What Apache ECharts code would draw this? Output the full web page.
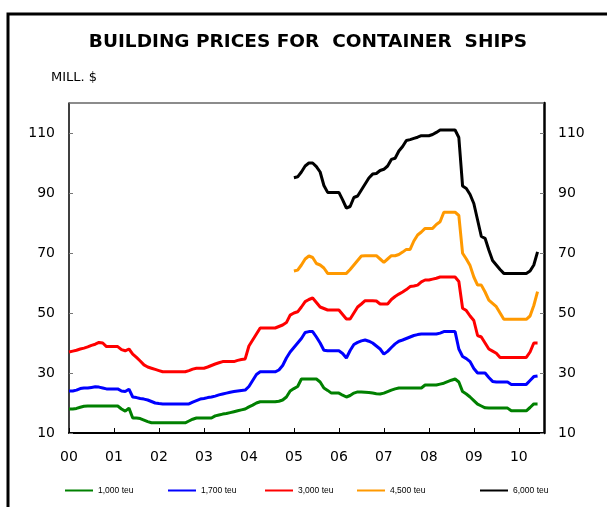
<!DOCTYPE html>
<html>
<head>
<meta charset="utf-8">
<script src="https://cdn.jsdelivr.net/npm/echarts@6/dist/echarts.min.js"></script>
<style>
  html, body { margin: 0; padding: 0; background: #fff; }
  #chart { width: 607px; height: 507px; }
</style>
</head>
<body>
<div id="chart"></div>
<script>
// monthly points, Jan 2000 .. Jun 2010 (as fractional years)
var months = []
for (var y = 2000; y <= 2010; y++) {
  for (var m = 0; m < 12; m++) {
    if (months.length < 126) months.push(y + m / 12)
  }
}

var yearTicks = [2000, 2001, 2002, 2003, 2004, 2005, 2006, 2007, 2008, 2009, 2010]
var priceTicks = [10, 30, 50, 70, 90, 110]

var names = ['1,000 teu', '1,700 teu', '3,000 teu', '4,500 teu', '6,000 teu']
var colors = ['#008000', '#0000ff', '#ff0000', '#ff9900', '#000000']

// from Jan 2000
var teu1000 = [
  18, 18, 18.2, 18.6, 18.9, 19, 19, 19, 19, 19, 19, 19,
  19, 19, 18, 17.3, 18.3, 15, 15, 14.8, 14.3, 13.8, 13.4, 13.4,
  13.4, 13.4, 13.4, 13.4, 13.4, 13.4, 13.4, 13.4, 14, 14.6, 15, 15,
  15, 15, 15, 15.7, 16, 16.3, 16.5, 16.8, 17.1, 17.4, 17.7, 18,
  18.7, 19.3, 20, 20.4, 20.4, 20.4, 20.4, 20.4, 20.6, 21, 22, 24,
  24.8, 25.5, 28, 28, 28, 28, 28, 27, 25, 24.2, 23.3, 23.3,
  23.3, 22.6, 22, 22.5, 23.3, 23.7, 23.7, 23.6, 23.5, 23.3, 23.1, 23,
  23.3, 23.8, 24.3, 24.7, 25, 25, 25, 25, 25, 25, 25, 26,
  26, 26, 26, 26.3, 26.6, 27.1, 27.6, 28, 27, 23.8, 23, 22,
  20.8, 19.6, 19, 18.4, 18.3, 18.3, 18.3, 18.3, 18.3, 18.3, 17.4, 17.4,
  17.4, 17.4, 17.4, 18.5, 19.7, 19.7
]
var teu1700 = [
  24, 24, 24.3, 24.8, 25, 25, 25.2, 25.4, 25.3, 25, 24.7, 24.7,
  24.7, 24.7, 24, 23.8, 24.6, 22, 21.8, 21.5, 21.3, 21, 20.5, 20,
  19.8, 19.7, 19.7, 19.7, 19.7, 19.7, 19.7, 19.7, 19.7, 20.3, 20.8, 21.3,
  21.5, 21.8, 22, 22.3, 22.7, 23, 23.3, 23.6, 23.8, 24, 24.2, 24.3,
  25.5, 27.5, 29.5, 30.4, 30.4, 30.4, 30.4, 30.4, 31, 32.5, 35, 37,
  38.5, 40, 41.5, 43.5, 43.8, 43.8, 42, 40, 37.6, 37.4, 37.4, 37.4,
  37.4, 36.5, 35, 37.5, 39.5, 40.2, 40.7, 41, 40.6, 40, 39, 38,
  36.3, 37.2, 38.5, 39.7, 40.6, 41, 41.5, 42, 42.5, 42.8, 43, 43,
  43, 43, 43, 43.3, 43.8, 43.8, 43.8, 43.8, 38, 35.5, 34.8, 33.8,
  31.5, 30, 30, 30, 28.5, 27.2, 27, 27, 27, 27, 26.2, 26.2,
  26.2, 26.2, 26.2, 27.5, 28.8, 29
]
var teu3000 = [
  37, 37.3, 37.6, 38, 38.3, 38.7, 39.2, 39.6, 40.2, 40, 38.8, 38.8,
  38.8, 38.8, 37.8, 37.4, 38, 36.3, 35.2, 34, 32.7, 32, 31.6, 31.2,
  30.8, 30.4, 30.4, 30.4, 30.4, 30.4, 30.4, 30.4, 30.8, 31.3, 31.6, 31.6,
  31.6, 32, 32.5, 33, 33.4, 33.8, 33.8, 33.8, 33.8, 34.2, 34.5, 34.7,
  39, 41, 43, 45, 45, 45, 45, 45, 45.5, 46, 46.8, 49.3,
  50, 50.4, 52, 53.8, 54.5, 55, 53.5, 52, 51.5, 51, 51, 51,
  51, 49.5, 48, 48, 50, 52, 53, 54.1, 54.1, 54.1, 54, 53,
  53, 53, 54.5, 55.5, 56.3, 57, 57.8, 58.8, 59, 59.3, 60.4, 61,
  61, 61.3, 61.6, 62, 62, 62, 62, 62, 60.5, 51.6, 50.8, 49,
  47.5, 42.5, 42, 40, 38, 37.3, 36.6, 35.2, 35.2, 35.2, 35.2, 35.2,
  35.2, 35.2, 35.2, 37, 40, 40
]
// from Jan 2005
var teu4500 = [
  64, 64.3, 66, 68, 69, 68.5, 66.5, 66, 65, 63.2, 63.2, 63.2,
  63.2, 63.2, 63.2, 64.5, 66, 67.5, 69, 69.1, 69.1, 69.1, 69.1, 68,
  66.9, 68, 69.1, 69.1, 69.5, 70.3, 71.2, 71.2, 74, 76, 77, 78.2,
  78.2, 78.2, 79.5, 80.4, 83.6, 83.6, 83.6, 83.6, 82.5, 69.9, 68, 65.8,
  62, 59.3, 59.3, 57, 54.3, 53.2, 52.1, 50, 47.9, 47.9, 47.9, 47.9,
  47.9, 47.9, 47.9, 49, 52.5, 57.1
]
var teu6000 = [
  95.1, 95.4, 97, 99, 100, 100, 98.8, 97, 92.5, 90.2, 90.2, 90.2,
  90.2, 87.7, 85, 85.5, 88.5, 89, 91, 93, 95, 96.3, 96.5, 97.5,
  97.9, 99, 101.2, 101.6, 104, 105.5, 107.5, 107.8, 108.2, 108.6, 109.1, 109.1,
  109.1, 109.5, 110.2, 111, 111, 111, 111, 111, 108.5, 92.3, 91.5, 89.5,
  86.5, 81, 75.5, 74.9, 71, 67.5, 66, 64.5, 63.2, 63.2, 63.2, 63.2,
  63.2, 63.2, 63.2, 64, 66, 70.4
]

var seriesValues = [teu1000, teu1700, teu3000, teu4500, teu6000]
var seriesStart = [0, 0, 0, 60, 60]

function pairs(values, start) {
  return values.map(function(v, i) { return [months[start + i], v] })
}

var font = 'DejaVu Sans, sans-serif'
var smallFont = 'Liberation Sans, Arial, sans-serif'

function priceAxis(pos, lineWidth) {
  return {
    type: 'value',
    position: pos,
    min: 10,
    max: 120,
    axisLine: { show: true, onZero: false, lineStyle: { color: '#000', width: lineWidth } },
    axisTick: { show: true, inside: true, length: 4, customValues: priceTicks, lineStyle: { color: '#777' } },
    axisLabel: { customValues: priceTicks, color: '#000', fontSize: 14, fontFamily: font, margin: 14 },
    splitLine: { show: false }
  }
}

var chart = echarts.init(document.getElementById('chart'))

chart.setOption({
  backgroundColor: '#fff',
  animation: false,
  graphic: [
    {
      type: 'rect',
      shape: { x: 8, y: 14, width: 700, height: 600 },
      style: { fill: 'none', stroke: '#000', lineWidth: 3 }
    },
    {
      // grey frame line on top of the plot area
      type: 'line',
      z: 50,
      shape: { x1: 69, y1: 103, x2: 544, y2: 103 },
      style: { stroke: '#666', lineWidth: 1.5 }
    },
    {
      type: 'text',
      x: 308,
      y: 42,
      style: {
        text: 'BUILDING PRICES FOR  CONTAINER  SHIPS',
        fill: '#000',
        font: 'bold 18.5px ' + font,
        textAlign: 'center',
        textVerticalAlign: 'middle'
      }
    },
    {
      type: 'text',
      x: 51,
      y: 78,
      style: {
        text: 'MILL. $',
        fill: '#000',
        font: '13px ' + font,
        textVerticalAlign: 'middle'
      }
    }
  ],
  grid: {
    left: 69,
    right: 63,
    top: 103,
    bottom: 74
  },
  legend: names.map(function(n, i) {
    return {
      data: [n],
      left: [65, 168, 265, 357, 480][i],
      top: 486,
      icon: 'rect',
      itemWidth: 28,
      itemHeight: 2,
      padding: 0,
      textStyle: { fontSize: 8.5, fontFamily: smallFont, color: '#000' }
    }
  }),
  xAxis: {
    type: 'value',
    min: 2000,
    max: 2010.56,
    axisLine: { onZero: false, lineStyle: { color: '#000', width: 2 } },
    axisTick: { show: true, inside: true, length: 5, customValues: yearTicks, lineStyle: { color: '#000' } },
    axisLabel: {
      customValues: yearTicks,
      color: '#000',
      fontSize: 14,
      fontFamily: font,
      margin: 17,
      formatter: function(v) { return String(Math.round(v)).slice(2) }
    },
    splitLine: { show: false }
  },
  yAxis: [priceAxis('left', 1.5), priceAxis('right', 2.5)],
  series: names.map(function(n, i) {
    return {
      name: n,
      type: 'line',
      showSymbol: false,
      color: colors[i],
      lineStyle: { width: 3, color: colors[i] },
      data: pairs(seriesValues[i], seriesStart[i])
    }
  })
})
</script>
</body>
</html>
